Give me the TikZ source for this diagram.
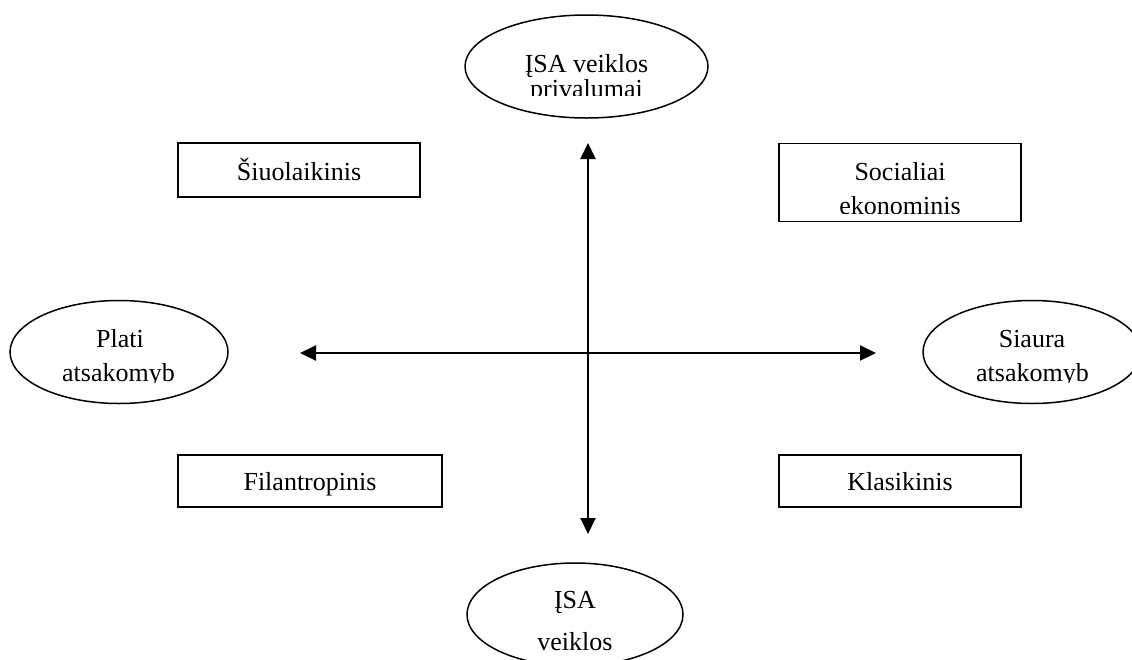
\documentclass[tikz,border=0pt]{standalone}
\usepackage{fontspec}
\setmainfont{Liberation Serif}
\usetikzlibrary{arrows.meta,shapes.geometric}
\tikzset{
  shapeline/.style={draw=black, line width=1.5pt},
  oval/.style={shapeline, ellipse, inner sep=0pt},
  boxnode/.style={shapeline, rectangle, inner sep=0pt},
  lbl/.style={inner sep=0pt, font=\fontsize{26}{30}\selectfont, anchor=base},
  axis/.style={line width=2pt, {Triangle[length=16pt,width=15pt]}-{Triangle[length=16pt,width=15pt]}}
}
\begin{document}
\begin{tikzpicture}[x=1pt,y=-1pt]
\useasboundingbox (0,0) rectangle (1132,659);
\begin{scope}
\clip (0,0) rectangle (1132,659);
% shapes
\node[oval, minimum width=243pt, minimum height=103pt] (top) at (586.5,66.5) {};
\node[oval, minimum width=216pt, minimum height=103pt] (bottom) at (575,614.5) {};
\node[oval, minimum width=218pt, minimum height=103pt] (left) at (119,352) {};
\node[oval, minimum width=218pt, minimum height=103pt] (right) at (1032,352) {};
\node[boxnode, minimum width=242pt, minimum height=54pt] (modern) at (299,170) {};
\node[boxnode, minimum width=242pt, minimum height=78pt] (social) at (900,182.5) {};
\node[boxnode, minimum width=264pt, minimum height=52pt] (phil) at (310,481) {};
\node[boxnode, minimum width=242pt, minimum height=52pt] (classic) at (900,481) {};
\end{scope}
% texts
\node[lbl] (tTop1) at (586.5,72) {ĮSA veiklos};
\begin{scope}\clip (470,76) rectangle (700,95.5);
\node[lbl] (tTop2) at (586.5,97) {privalumai};
\end{scope}
\node[lbl] (tBot1) at (575,608) {ĮSA};
\begin{scope}\clip (470,612) rectangle (680,651.5);
\node[lbl] (tBot2) at (575,650) {veiklos};
\end{scope}
\node[lbl] (tLeft1) at (120,347.5) {Plati};
\begin{scope}\clip (20,352) rectangle (220,382);
\node[lbl] (tLeft2) at (118.5,381.7) {atsakomyb};
\end{scope}
\node[lbl] (tRight1) at (1032,347.5) {Siaura};
\begin{scope}\clip (930,352) rectangle (1132,382);
\node[lbl] (tRight2) at (1032.5,381.7) {atsakomyb};
\end{scope}
\node[lbl] (tModern) at (299,180) {Šiuolaikinis};
\node[lbl] (tSocial1) at (900,180.7) {Socialiai};
\begin{scope}\clip (785,186) rectangle (1015,213.5);
\node[lbl] (tSocial2) at (900,214) {ekonominis};
\end{scope}
\node[lbl] (tPhil) at (310,490) {Filantropinis};
\node[lbl] (tClassic) at (900,490) {Klasikinis};
% axes
\coordinate (vTop) at (588,143);
\coordinate (vBot) at (588,534);
\coordinate (hLeft) at (300,353);
\coordinate (hRight) at (876,353);
\draw[axis] (vTop) -- (vBot);
\draw[axis] (hLeft) -- (hRight);
\end{tikzpicture}
\end{document}
